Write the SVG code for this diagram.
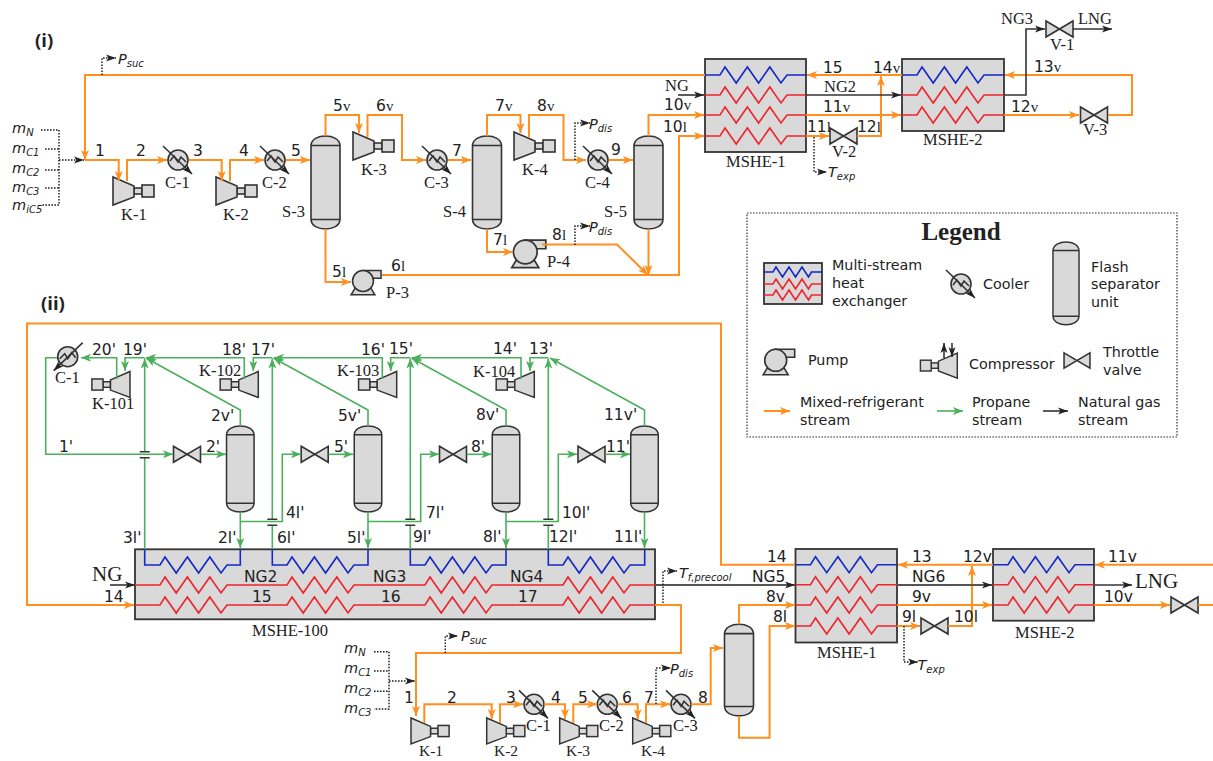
<svg xmlns="http://www.w3.org/2000/svg" width="1213" height="761" viewBox="0 0 1213 761">
<style>
.n{fill:#d9d9d9;stroke:#333;stroke-width:1.6}
.nl{fill:none;stroke:#333;stroke-width:1.6}
.hx{fill:#d9d9d9;stroke:#333;stroke-width:1.8}
.b{fill:none;stroke:#1428c8;stroke-width:1.6}
.rd{fill:none;stroke:#f0242c;stroke-width:1.6}
.o{fill:none;stroke:#ff9020;stroke-width:2}
.oa{marker-end:url(#ao)}
.g{fill:none;stroke:#4caf5c;stroke-width:1.6}
.ga{marker-end:url(#ag)}
.k{fill:none;stroke:#333;stroke-width:1.6}
.ka{marker-end:url(#ak)}
.gr{fill:none;stroke:#555;stroke-width:1.8}
.d{fill:none;stroke:#222;stroke-width:1.5;stroke-dasharray:1.6 1.4}
.da{marker-end:url(#ak)}
.br{fill:none;stroke:#333;stroke-width:1.4}
text{fill:#222}
.t{font-family:"DejaVu Sans",sans-serif;font-size:15.5px}
.l{font-family:"DejaVu Sans",sans-serif;font-size:14.3px}
.r{font-family:"Liberation Serif",serif;font-size:16.5px}
.v{font-family:"Liberation Serif",serif;font-size:15px}
.i{font-family:"DejaVu Sans",sans-serif;font-style:italic;font-size:14.5px}
.sub{font-size:10px}
.h{font-family:"Open Sans",sans-serif;font-weight:700;font-size:18.5px}
</style>
<defs>
<marker id="ao" markerUnits="userSpaceOnUse" markerWidth="12" markerHeight="12" refX="10" refY="6" orient="auto" overflow="visible"><path d="M0 2L10 6L0 10L2.5 6Z" fill="#ff9020"/></marker>
<marker id="ag" markerUnits="userSpaceOnUse" markerWidth="12" markerHeight="12" refX="10" refY="6" orient="auto" overflow="visible"><path d="M0 2L10 6L0 10L2.5 6Z" fill="#4caf5c"/></marker>
<marker id="ak" markerUnits="userSpaceOnUse" markerWidth="12" markerHeight="12" refX="10" refY="6" orient="auto" overflow="visible"><path d="M0 2.5L10 6L0 9.5L2.5 6Z" fill="#222"/></marker>
<g id="cmp"><rect class="n" x="21" y="11" width="8" height="6"/><rect class="n" x="29" y="8" width="12" height="12"/><path class="n" d="M0 0V28L21 20V9Z"/></g>
<g id="cool"><circle class="n" r="10"/><path class="nl" stroke-width="1" d="M-8 1L-4-4L0 2L3-3L8 2"/><path class="k ka" d="M-15-14L14 14"/></g>
<g id="sep"><path class="n" d="M-14.5 10C-14.5 3-7 0 0 0C7 0 14.5 3 14.5 10V83C14.5 90 7 93 0 93C-7 93-14.5 90-14.5 83Z"/><path class="nl" d="M-14.5 9.5H14.5M-14.5 83.5H14.5"/></g>
<g id="valve"><path class="n" d="M-13.5-8L13.5 8V-8L-13.5 8Z"/></g>
<g id="pump"><path class="n" d="M-8 7L-12.5 14.5H12.5L8 7Z"/><path class="n" d="M0-11H19V-3H8Z"/><circle class="n" r="11"/></g>
</defs>

<!-- section (i) -->
<g id="i-title"><text class="h" x="35" y="47">(i)</text></g>
<g id="ii-title"><text class="h" x="41" y="310">(ii)</text></g>

<g id="i-inputs">
<text class="i" x="12" y="133">m<tspan class="sub" dy="3">N</tspan></text>
<text class="i" x="12" y="153">m<tspan class="sub" dy="3">C1</tspan></text>
<text class="i" x="12" y="173">m<tspan class="sub" dy="3">C2</tspan></text>
<text class="i" x="12" y="192">m<tspan class="sub" dy="3">C3</tspan></text>
<text class="i" x="12" y="210">m<tspan class="sub" dy="3">iC5</tspan></text>
</g>
<g id="i-K-1"><use href="#cmp" x="113" y="177"/><text class="r" x="121" y="220">K-1</text></g>
<g id="i-K-2"><use href="#cmp" x="216" y="177"/><text class="r" x="223" y="220">K-2</text></g>
<g id="i-K-3"><use href="#cmp" x="353" y="132"/><text class="r" x="361" y="175">K-3</text></g>
<g id="i-K-4"><use href="#cmp" x="514" y="132"/><text class="r" x="522" y="175">K-4</text></g>
<g id="i-C-1"><use href="#cool" x="178" y="160"/><text class="r" x="165" y="188">C-1</text></g>
<g id="i-C-2"><use href="#cool" x="275" y="160"/><text class="r" x="262" y="188">C-2</text></g>
<g id="i-C-3"><use href="#cool" x="437" y="160"/><text class="r" x="424" y="188">C-3</text></g>
<g id="i-C-4"><use href="#cool" x="598" y="160"/><text class="r" x="585" y="188">C-4</text></g>
<g id="i-S-3"><use href="#sep" x="325.5" y="136"/><text class="r" x="282" y="217">S-3</text></g>
<g id="i-S-4"><use href="#sep" x="487" y="136"/><text class="r" x="443" y="217">S-4</text></g>
<g id="i-S-5"><use href="#sep" x="648.5" y="136"/><text class="r" x="604" y="217">S-5</text></g>
<g id="i-P-3"><use href="#pump" transform="translate(363 281) scale(.95)"/><text class="r" x="386" y="298">P-3</text></g>
<g id="i-P-4"><use href="#pump" transform="translate(525.3 252) scale(1.08)"/><text class="r" x="547" y="267">P-4</text></g>
<g id="i-V-1"><use href="#valve" x="1059.5" y="29"/><text class="r" x="1050" y="50">V-1</text></g>
<g id="i-V-2"><use href="#valve" x="843.5" y="136"/><text class="r" x="832" y="157">V-2</text></g>
<g id="i-V-3"><use href="#valve" x="1094" y="115"/><text class="r" x="1083" y="135">V-3</text></g>
<g id="i-MSHE-1">
<rect class="hx" x="705" y="59" width="101" height="93"/>
<path class="b" d="M705 75H720l5-8 11.2 16 11.2-16 11.2 16 11.2-16 11.2 16 6-8H806"/>
<path class="rd" d="M705 95H720l5-8 11.2 16 11.2-16 11.2 16 11.2-16 11.2 16 6-8H806"/>
<path class="rd" d="M705 115H720l5-8 11.2 16 11.2-16 11.2 16 11.2-16 11.2 16 6-8H806"/>
<path class="rd" d="M705 136H720l5-8 11.2 16 11.2-16 11.2 16 11.2-16 11.2 16 6-8H806"/>
<text class="r" x="726" y="167">MSHE-1</text></g>
<g id="i-MSHE-2">
<rect class="hx" x="902" y="59" width="102" height="72"/>
<path class="b" d="M902 75H917l5-8 11.2 16 11.2-16 11.2 16 11.2-16 11.2 16 6-8H1004"/>
<path class="rd" d="M902 95H917l5-8 11.2 16 11.2-16 11.2 16 11.2-16 11.2 16 6-8H1004"/>
<path class="rd" d="M902 115H917l5-8 11.2 16 11.2-16 11.2 16 11.2-16 11.2 16 6-8H1004"/>
<text class="r" x="923" y="145">MSHE-2</text></g>

<!-- section (ii) -->
<g id="ii-K-101"><use href="#cmp" transform="translate(130 371.5) scale(-.93 .93)"/><text class="r" x="92" y="409">K-101</text></g>
<g id="ii-K-102"><use href="#cmp" transform="translate(258.3 371.5) scale(-.93 .93)"/><text class="r" x="199" y="376">K-102</text></g>
<g id="ii-K-103"><use href="#cmp" transform="translate(396.7 371.5) scale(-.93 .93)"/><text class="r" x="337" y="376">K-103</text></g>
<g id="ii-K-104"><use href="#cmp" transform="translate(534.3 371.5) scale(-.93 .93)"/><text class="r" x="473" y="377">K-104</text></g>
<g id="ii-C-1p"><use href="#cool" transform="translate(67.7 356.7) scale(-1 1)"/><text class="r" x="55" y="383">C-1</text></g>
<g id="ii-S1"><use href="#sep" transform="translate(240.3 426) scale(.95 .925)"/></g>
<g id="ii-S2"><use href="#sep" transform="translate(368 426) scale(.95 .925)"/></g>
<g id="ii-S3"><use href="#sep" transform="translate(506 426) scale(.95 .925)"/></g>
<g id="ii-S4"><use href="#sep" transform="translate(644.5 426) scale(.95 .925)"/></g>
<g id="ii-V1"><use href="#valve" x="187" y="454.3"/></g>
<g id="ii-V2"><use href="#valve" x="314.7" y="454.3"/></g>
<g id="ii-V3"><use href="#valve" x="453" y="454.3"/></g>
<g id="ii-V4"><use href="#valve" x="591.5" y="454.3"/></g>
<g id="ii-MSHE-100">
<rect class="hx" x="135" y="549.3" width="520" height="70"/>
<path class="b" d="M144.7 549.3V565H160l5-8 11.2 16 11.2-16 11.2 16 11.2-16 11.2 16 6-8H240.3V549.3"/>
<path class="b" d="M272.3 549.3V565H287l5-8 11.2 16 11.2-16 11.2 16 11.2-16 11.2 16 6-8H368V549.3"/>
<path class="b" d="M410.3 549.3V565H425l5-8 11.2 16 11.2-16 11.2 16 11.2-16 11.2 16 6-8H506V549.3"/>
<path class="b" d="M548.3 549.3V565H563l5-8 11.2 16 11.2-16 11.2 16 11.2-16 11.2 16 6-8H644.7V549.3"/>
<path class="rd" d="M135 585H160l5-8 11.2 16 11.2-16 11.2 16 11.2-16 11.2 16 6-8H287l5-8 11.2 16 11.2-16 11.2 16 11.2-16 11.2 16 6-8H425l5-8 11.2 16 11.2-16 11.2 16 11.2-16 11.2 16 6-8H563l5-8 11.2 16 11.2-16 11.2 16 11.2-16 11.2 16 6-8H655"/>
<path class="rd" d="M135 605H160l5-8 11.2 16 11.2-16 11.2 16 11.2-16 11.2 16 6-8H287l5-8 11.2 16 11.2-16 11.2 16 11.2-16 11.2 16 6-8H425l5-8 11.2 16 11.2-16 11.2 16 11.2-16 11.2 16 6-8H563l5-8 11.2 16 11.2-16 11.2 16 11.2-16 11.2 16 6-8H655"/>
<text class="r" x="252" y="636">MSHE-100</text></g>
<g id="ii-MSHE-1">
<rect class="hx" x="795.5" y="549" width="101.5" height="93.5"/>
<path class="b" d="M795.5 564.7H810.5l5-8 11.2 16 11.2-16 11.2 16 11.2-16 11.2 16 6-8H897"/>
<path class="rd" d="M795.5 584.7H810.5l5-8 11.2 16 11.2-16 11.2 16 11.2-16 11.2 16 6-8H897"/>
<path class="rd" d="M795.5 605H810.5l5-8 11.2 16 11.2-16 11.2 16 11.2-16 11.2 16 6-8H897"/>
<path class="rd" d="M795.5 626H810.5l5-8 11.2 16 11.2-16 11.2 16 11.2-16 11.2 16 6-8H897"/>
<text class="r" x="817" y="658">MSHE-1</text></g>
<g id="ii-MSHE-2">
<rect class="hx" x="993" y="549" width="101" height="71.7"/>
<path class="b" d="M993 564.7H1008l5-8 11.2 16 11.2-16 11.2 16 11.2-16 11.2 16 6-8H1094"/>
<path class="rd" d="M993 584.7H1008l5-8 11.2 16 11.2-16 11.2 16 11.2-16 11.2 16 6-8H1094"/>
<path class="rd" d="M993 605H1008l5-8 11.2 16 11.2-16 11.2 16 11.2-16 11.2 16 6-8H1094"/>
<text class="r" x="1015" y="638">MSHE-2</text></g>
<g id="ii-V-9"><use href="#valve" x="934.5" y="626"/></g>
<g id="ii-V-10"><use href="#valve" x="1184.5" y="605"/></g>
<g id="ii-S-out"><use href="#sep" transform="translate(739 624.3) scale(1 .985)"/></g>
<g id="ii-K-1"><use href="#cmp" transform="translate(411 718) scale(.93)"/><text class="r" x="419" y="756" style="font-size:15.5px">K-1</text></g>
<g id="ii-K-2"><use href="#cmp" transform="translate(486.7 718) scale(.93)"/><text class="r" x="494" y="756" style="font-size:15.5px">K-2</text></g>
<g id="ii-K-3"><use href="#cmp" transform="translate(559.7 718) scale(.93)"/><text class="r" x="566" y="756" style="font-size:15.5px">K-3</text></g>
<g id="ii-K-4"><use href="#cmp" transform="translate(632.7 718) scale(.93)"/><text class="r" x="641" y="756" style="font-size:15.5px">K-4</text></g>
<g id="ii-C-1"><use href="#cool" x="534" y="704.3"/><text class="r" x="526" y="731">C-1</text></g>
<g id="ii-C-2"><use href="#cool" x="607.3" y="704.3"/><text class="r" x="599" y="731">C-2</text></g>
<g id="ii-C-3"><use href="#cool" x="681" y="704.3"/><text class="r" x="673" y="731">C-3</text></g>
<g id="ii-inputs">
<text class="i" x="344" y="653">m<tspan class="sub" dy="3">N</tspan></text>
<text class="i" x="344" y="673">m<tspan class="sub" dy="3">C1</tspan></text>
<text class="i" x="344" y="693">m<tspan class="sub" dy="3">C2</tspan></text>
<text class="i" x="344" y="713">m<tspan class="sub" dy="3">C3</tspan></text>
</g>

<!-- connectors -->
<g id="connectors">
<g class="oo">
<path class="o oa" d="M705 75H85V160"/>
<path class="o oa" d="M85 160H118.7V181"/>
<path class="o oa" d="M127 181V160H167"/>
<path class="o oa" d="M189 160H221.7V181"/>
<path class="o oa" d="M230 181V160H264"/>
<path class="o oa" d="M286 160H310"/>
<path class="o oa" d="M325.5 136V115H359V133"/>
<path class="o oa" d="M367.5 137V115H402V160H426"/>
<path class="o oa" d="M448 160H471"/>
<path class="o oa" d="M487 136V115H520.5V133"/>
<path class="o oa" d="M529 137V115H563.5V160H586"/>
<path class="o oa" d="M609 160H633"/>
<path class="o oa" d="M648.5 136V115H704"/>
<path class="o oa" d="M648.5 229V275"/>
<path class="o oa" d="M325.5 229V282H351"/>
<path class="o oa" d="M382 275H679V136H704"/>
<path class="o oa" d="M487 229V252H513"/>
<path class="o oa" d="M542 244.5H617L648 275"/>
<path class="o oa" d="M806 115H901"/>
<path class="o oa" d="M806 136H829"/>
<path class="o oa" d="M857 136H881V76"/>
<path class="o oa" d="M902 75H807"/>
<path class="o oa" d="M1108 115H1132V75H1005"/>
<path class="o oa" d="M1004 115H1079"/>
<!-- ii orange -->
<path class="o oa" d="M795 564.7H721V323.5H27V605H134"/>
<path class="o oa" d="M655 605H681V653H416V716"/>
<path class="o oa" d="M1213 564.7H1095"/>
<path class="o oa" d="M993 564.7H898"/>
<path class="o oa" d="M897 626H920"/>
<path class="o oa" d="M948 626H972V566"/>
<path class="o oa" d="M897 605H992"/>
<path class="o oa" d="M1094 605H1170"/>
<path class="o" d="M1198 605H1213"/>
<path class="o oa" d="M424.3 723V704.3H491.7V719"/>
<path class="o oa" d="M500 723V704.3H523"/>
<path class="o oa" d="M544 704.3H565V719"/>
<path class="o oa" d="M573.3 723V704.3H597"/>
<path class="o oa" d="M617.5 704.3H637.7V719"/>
<path class="o oa" d="M646 723V704.3H670"/>
<path class="o oa" d="M691 704.3H710.7V648H723"/>
<path class="o oa" d="M739 624.3V605H795"/>
<path class="o oa" d="M739 716V737.7H769.6V626H795"/>
</g>
<!-- black / natural gas -->
<path class="k ka" d="M678 95H704"/>
<path class="k ka" d="M806 95H901"/>
<path class="k ka" d="M1004 95H1026V29H1045"/>
<path class="k ka" d="M1073 29H1112"/>
<path class="k ka" d="M110 585H135"/>
<path class="gr ka" d="M655 585H795"/>
<path class="gr ka" d="M897 585H992"/>
<path class="k ka" d="M1094 585H1132"/>
<!-- green / propane -->
<path class="g ga" d="M116.7 379V357.7H81"/>
<path class="g ga" d="M57 357.7H45.7V454.3H173"/>
<path class="g" d="M144.7 549.3V457.7"/>
<path class="g ga" d="M144.7 451.7V358.5"/>
<path class="br" d="M139.7 451.7H149.7M139.7 457.7H149.7"/>
<path class="g ga" d="M201 454.3H226"/>
<path class="g ga" d="M240.3 426V410L146 358"/>
<path class="g ga" d="M144.7 357.7H125V371"/>
<path class="g ga" d="M244.3 379V357.7H146"/>
<path class="g ga" d="M272.3 357.7H253.3V371"/>
<path class="g" d="M272.3 549.3V525.3"/>
<path class="g ga" d="M272.3 519.3V358.5"/>
<path class="br" d="M267.3 519.3H277.3M267.3 525.3H277.3"/>
<path class="g ga" d="M240.3 512V548"/>
<path class="g ga" d="M240.3 521.5H282.3V454.3H301"/>
<path class="g ga" d="M328.5 454.3H353"/>
<path class="g ga" d="M368 426V410L273.5 358"/>
<path class="g ga" d="M382.3 379V357.7H274"/>
<path class="g ga" d="M410.3 357.7H390.7V371"/>
<path class="g" d="M410.3 549.3V525.3"/>
<path class="g ga" d="M410.3 519.3V358.5"/>
<path class="br" d="M405.3 519.3H415.3M405.3 525.3H415.3"/>
<path class="g ga" d="M368 512V548"/>
<path class="g ga" d="M368 521.5H420.7V454.3H439"/>
<path class="g ga" d="M466.7 454.3H491.5"/>
<path class="g ga" d="M506 426V410L411.5 358"/>
<path class="g ga" d="M521 379V357.7H412"/>
<path class="g ga" d="M548.3 357.7H530V371"/>
<path class="g" d="M548.3 549.3V525.3"/>
<path class="g ga" d="M548.3 519.3V358.5"/>
<path class="br" d="M543.3 519.3H553.3M543.3 525.3H553.3"/>
<path class="g ga" d="M506 512V548"/>
<path class="g ga" d="M506 521.5H558.3V454.3H577"/>
<path class="g ga" d="M605 454.3H630"/>
<path class="g ga" d="M644.5 426V410L550 358"/>
<path class="g ga" d="M644.5 512V548"/>
<!-- dotted signals -->
<path class="d" d="M41 130H59V205H42M45 149H59M45 170H59M45 188H59"/>
<path class="d da" d="M59 160H84"/>
<path class="d da" d="M102 75V58H116"/>
<path class="d da" d="M575 160V123H590"/>
<path class="d da" d="M575 245V226H590"/>
<path class="d da" d="M814 137V172H827"/>
<path class="d" d="M374 651.7H389V709H374M374 671H389M374 691.3H389"/>
<path class="d da" d="M389 681H415"/>
<path class="d da" d="M445.3 653V636H458"/>
<path class="d da" d="M656 704V668H671"/>
<path class="d da" d="M663 603V571H677"/>
<path class="d da" d="M904 626V662H918"/>
</g>

<!-- labels -->
<g id="labels-i">
<text class="t" x="95" y="156">1</text><text class="t" x="136" y="156">2</text><text class="t" x="193" y="156">3</text><text class="t" x="239" y="156">4</text><text class="t" x="291" y="156">5</text>
<text class="t" x="333" y="111">5<tspan class="v">v</tspan></text><text class="t" x="376" y="111">6<tspan class="v">v</tspan></text>
<text class="t" x="332" y="277">5<tspan class="v">l</tspan></text><text class="t" x="391" y="271">6<tspan class="v">l</tspan></text>
<text class="t" x="495" y="111">7<tspan class="v">v</tspan></text><text class="t" x="537" y="111">8<tspan class="v">v</tspan></text>
<text class="t" x="452" y="156">7</text><text class="t" x="611" y="155">9</text>
<text class="t" x="493" y="245">7<tspan class="v">l</tspan></text><text class="t" x="552" y="240">8<tspan class="v">l</tspan></text>
<text class="r" x="665" y="91">NG</text>
<text class="t" x="664" y="110">10<tspan class="v">v</tspan></text><text class="t" x="663" y="132">10<tspan class="v">l</tspan></text>
<text class="t" x="823" y="73">15</text><text class="t" x="873" y="73">14<tspan class="v">v</tspan></text>
<text class="r" x="824" y="92">NG2</text><text class="t" x="823" y="112">11<tspan class="v">v</tspan></text>
<text class="t" x="807" y="132">11<tspan class="v">l</tspan></text><text class="t" x="857" y="132">12<tspan class="v">l</tspan></text>
<text class="t" x="1011" y="112">12<tspan class="v">v</tspan></text><text class="t" x="1034" y="72">13<tspan class="v">v</tspan></text>
<text class="r" x="1001" y="24">NG3</text><text class="r" x="1078" y="24">LNG</text>
<text class="i" x="118" y="64">P<tspan class="sub" dy="3">suc</tspan></text>
<text class="i" x="589" y="129">P<tspan class="sub" dy="3">dis</tspan></text>
<text class="i" x="589" y="232">P<tspan class="sub" dy="3">dis</tspan></text>
<text class="i" x="828" y="177">T<tspan class="sub" dy="3">exp</tspan></text>
</g>
<g id="labels-ii">
<text class="t" x="92" y="355">20'</text><text class="t" x="123" y="355">19'</text><text class="t" x="222" y="355">18'</text><text class="t" x="251" y="355">17'</text><text class="t" x="361" y="355">16'</text><text class="t" x="389" y="354">15'</text><text class="t" x="493" y="354">14'</text><text class="t" x="529" y="354">13'</text>
<text class="t" x="211" y="421">2v'</text><text class="t" x="338" y="421">5v'</text><text class="t" x="476" y="420">8v'</text><text class="t" x="604" y="420">11v'</text>
<text class="t" x="59" y="452">1'</text><text class="t" x="206" y="452">2'</text><text class="t" x="334" y="452">5'</text><text class="t" x="471" y="452">8'</text><text class="t" x="606" y="452">11'</text>
<text class="t" x="286" y="518">4l'</text><text class="t" x="426" y="518">7l'</text><text class="t" x="562" y="518">10l'</text>
<text class="t" x="123" y="543">3l'</text><text class="t" x="218" y="543">2l'</text><text class="t" x="277" y="543">6l'</text><text class="t" x="347" y="543">5l'</text><text class="t" x="413" y="542">9l'</text><text class="t" x="483" y="542">8l'</text><text class="t" x="549" y="542">12l'</text><text class="t" x="614" y="542">11l'</text>
<text class="r" x="92" y="581" style="font-size:21px">NG</text><text class="t" x="104" y="602">14</text>
<text class="t" x="244" y="582">NG2</text><text class="t" x="252" y="602">15</text><text class="t" x="373" y="582">NG3</text><text class="t" x="381" y="602">16</text><text class="t" x="510" y="582">NG4</text><text class="t" x="518" y="602">17</text>
<text class="i" x="679" y="578">T<tspan class="sub" dy="3">f,precool</tspan></text>
<text class="t" x="767" y="562">14</text><text class="t" x="752" y="582">NG5</text><text class="t" x="766" y="602">8v</text><text class="t" x="773" y="622">8l</text>
<text class="t" x="912" y="562">13</text><text class="t" x="912" y="582">NG6</text><text class="t" x="912" y="602">9v</text><text class="t" x="902" y="622">9l</text><text class="t" x="954" y="622">10l</text><text class="t" x="963" y="562">12v</text>
<text class="t" x="1108" y="562">11v</text><text class="r" x="1135" y="588" style="font-size:21px">LNG</text><text class="t" x="1104" y="602">10v</text>
<text class="i" x="917.5" y="670">T<tspan class="sub" dy="3">exp</tspan></text>
<text class="i" x="461" y="641">P<tspan class="sub" dy="3">suc</tspan></text>
<text class="i" x="670" y="674">P<tspan class="sub" dy="3">dis</tspan></text>
<text class="t" x="404" y="703">1</text><text class="t" x="447" y="703">2</text><text class="t" x="506" y="703">3</text><text class="t" x="551" y="703">4</text><text class="t" x="578" y="703">5</text><text class="t" x="622" y="703">6</text><text class="t" x="644" y="703">7</text><text class="t" x="698" y="703">8</text>
</g>

<!-- legend -->
<g id="legend">
<rect x="747" y="213" width="430" height="224" fill="none" stroke="#333" stroke-width="1.2" stroke-dasharray="1.6 1.4"/>
<text x="961" y="240" text-anchor="middle" style="font-family:'Liberation Serif',serif;font-weight:700;font-size:25px">Legend</text>
<g id="legend-mshe"><rect class="hx" x="764" y="263" width="58" height="41"/>
<path class="b" d="M764 272H773l3-5 6.5 10 6.5-10 6.5 10 6.5-10 6.5 10 3-5H822"/>
<path class="rd" d="M764 284H773l3-5 6.5 10 6.5-10 6.5 10 6.5-10 6.5 10 3-5H822"/>
<path class="rd" d="M764 295H773l3-5 6.5 10 6.5-10 6.5 10 6.5-10 6.5 10 3-5H822"/>
<text class="l" x="832" y="270">Multi-stream</text><text class="l" x="832" y="288">heat</text><text class="l" x="832" y="306">exchanger</text></g>
<g id="legend-cooler"><use href="#cool" x="961" y="284"/><text class="l" x="983" y="289">Cooler</text></g>
<g id="legend-sep"><use href="#sep" transform="translate(1066 242) scale(.9 .89)"/><text class="l" x="1091" y="272">Flash</text><text class="l" x="1091" y="289">separator</text><text class="l" x="1091" y="307">unit</text></g>
<g id="legend-pump"><use href="#pump" x="775.7" y="360.3"/><text class="l" x="808" y="365">Pump</text></g>
<g id="legend-comp"><use href="#cmp" transform="translate(957.3 353) scale(-.9 .9)"/>
<path class="k ka" stroke-width="1" d="M944 358V343"/><path class="k ka" stroke-width="1" d="M952 343V357"/>
<text class="l" x="969" y="369">Compressor</text></g>
<g id="legend-valve"><use href="#valve" transform="translate(1077 360.5) scale(.96)"/><text class="l" x="1103" y="357">Throttle</text><text class="l" x="1103" y="375">valve</text></g>
<g id="legend-streams">
<path class="o oa" d="M764 411H790"/><text class="l" x="800" y="407">Mixed-refrigerant</text><text class="l" x="800" y="425">stream</text>
<path class="g ga" d="M937 411H963"/><text class="l" x="972" y="407">Propane</text><text class="l" x="972" y="425">stream</text>
<path class="k ka" d="M1043 411H1068"/><text class="l" x="1078" y="407">Natural gas</text><text class="l" x="1078" y="425">stream</text>
</g>
</g>
</svg>
